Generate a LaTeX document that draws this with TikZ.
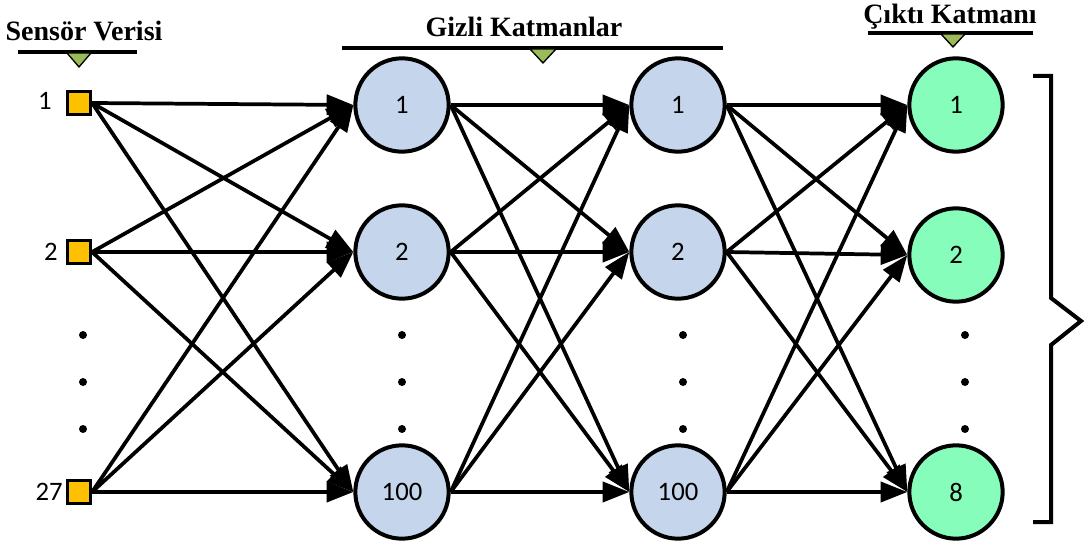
\documentclass[tikz,border=0pt]{standalone}
\usepackage{fontspec}
\setmainfont{Liberation Serif}
\newfontfamily\numfont{Carlito}
\usetikzlibrary{arrows.meta}
\definecolor{hidfill}{RGB}{197,214,236}
\definecolor{outfill}{RGB}{134,253,186}
\definecolor{infill}{RGB}{255,192,0}
\definecolor{trifill}{RGB}{155,187,89}
\begin{document}
\begin{tikzpicture}[x=0.75pt,y=-0.75pt,
  neuron/.style={circle,draw=black,line width=3pt,minimum size=70pt,inner sep=0pt,font=\numfont\fontsize{20}{20}\selectfont},
  hid/.style={neuron,fill=hidfill},
  outn/.style={neuron,fill=outfill},
  inbox/.style={rectangle,draw=black,line width=2.6pt,fill=infill,minimum size=17pt,inner sep=0pt},
  inlab/.style={font=\numfont\fontsize{20}{20}\selectfont,inner sep=0pt,anchor=east},
  conn/.style={line width=2.8pt,-{Triangle[length=20pt,width=15pt]}},
  title/.style={font=\bfseries\fontsize{21}{21}\selectfont,inner sep=0pt},
  bar/.style={line width=3.2pt},
  tri/.style={fill=trifill,draw=black,line width=1pt},
  dot/.style={circle,fill=black,minimum size=6pt,inner sep=0pt},
  brace/.style={line width=3pt,line join=miter}]
\useasboundingbox (0,0) rectangle (1089,549);

% titles
\node[title] (t1) at (84,31) {Sensör Verisi};
\node[title] (t2) at (524,27) {Gizli Katmanlar};
\node[title] (t3) at (950,17) {Çıktı Katmanı};
\draw[bar] (18,52) -- (137,52);
\draw[bar] (342,48) -- (723,48);
\draw[bar] (868,33) -- (1033,33);
\draw[tri] (67,53) -- (91,53) -- (79,67) -- cycle;
\draw[tri] (530,49) -- (556,49) -- (543,63) -- cycle;
\draw[tri] (941,34) -- (965,34) -- (953,47) -- cycle;

% input
\node[inbox] (i1) at (79,103) {};
\node[inbox] (i2) at (79,252) {};
\node[inbox] (i3) at (79,492) {};
\node[inlab] (l1) at (52,101) {1};
\node[inlab] (l2) at (58,252) {2};
\node[inlab] (l3) at (63,492) {27};

% hidden 1
\node[hid] (a1) at (402,105) {1};
\node[hid] (a2) at (402,252) {2};
\node[hid] (a3) at (402,492) {100};
% hidden 2
\node[hid] (b1) at (678,105) {1};
\node[hid] (b2) at (678,252) {2};
\node[hid] (b3) at (678,492) {100};
% output
\node[outn] (o1) at (956,105) {1};
\node[outn] (o2) at (956,255) {2};
\node[outn] (o3) at (956,492) {8};

% dots
\foreach \x/\n in {83/d, 402/e, 683/f, 965/g}{
  \node[dot] (\n1) at (\x,335) {};
  \node[dot] (\n2) at (\x,382) {};
  \node[dot] (\n3) at (\x,429) {};
}

% connections
\foreach \s in {i1,i2,i3}{
  \foreach \t in {a1,a2,a3}{ \draw[conn] (\s.east) -- (\t.west); }
}
\foreach \s in {a1,a2,a3}{
  \foreach \t in {b1,b2,b3}{ \draw[conn] (\s.east) -- (\t.west); }
}
\foreach \s in {b1,b2,b3}{
  \foreach \t in {o1,o2,o3}{ \draw[conn] (\s.east) -- (\t.west); }
}

% brace
\draw[brace] (1033,76) -- (1051,76) -- (1051,298) -- (1081,321) -- (1051,345) -- (1051,522) -- (1033,522);
\end{tikzpicture}
\end{document}
